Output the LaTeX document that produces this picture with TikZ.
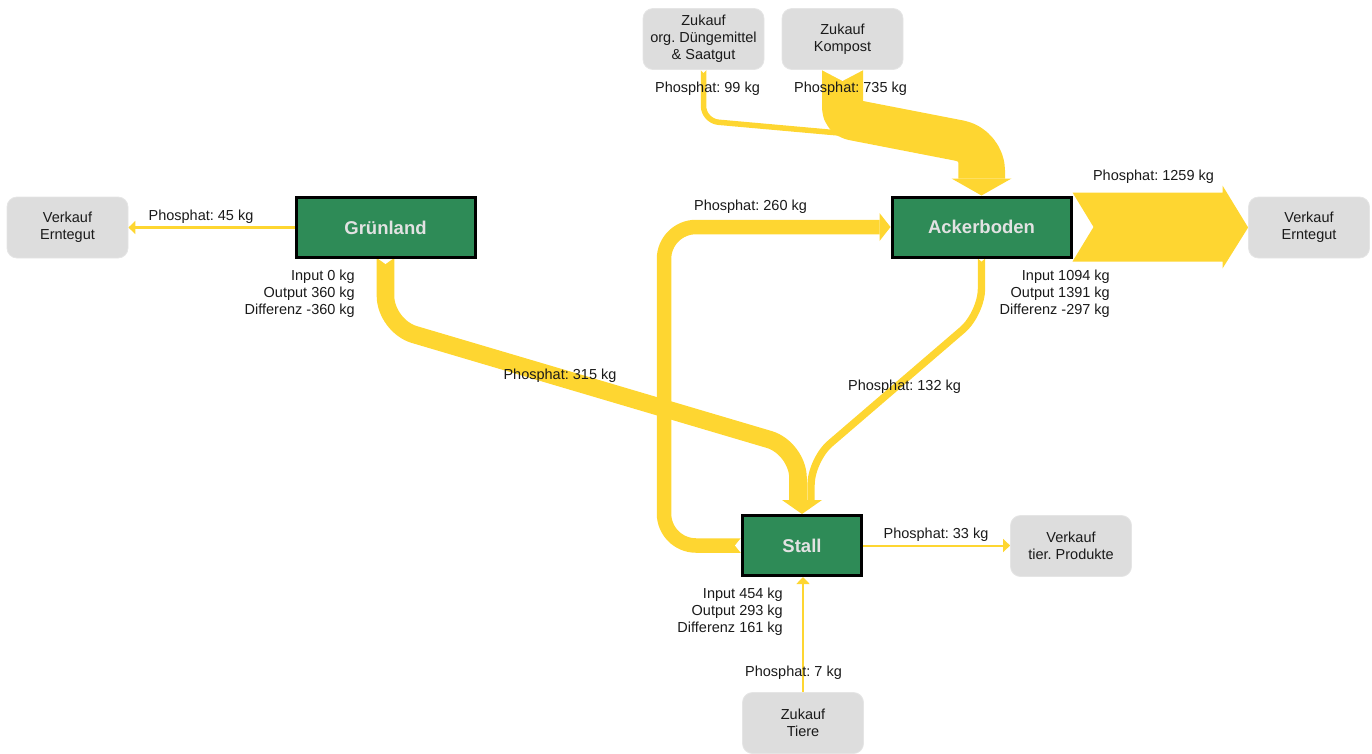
\documentclass[tikz,border=0pt]{standalone}
\usepackage{fontspec}
\setmainfont{Liberation Sans}
\usetikzlibrary{calc,arrows.meta}

\definecolor{flowyellow}{HTML}{FED631}
\definecolor{areagreen}{HTML}{2E8B57}
\definecolor{extgray}{HTML}{DDDDDD}
\definecolor{titlegray}{HTML}{E2E2E2}
\definecolor{txt}{HTML}{1A1A1A}

\newcommand{\lblfont}{\fontsize{14.5}{17}\selectfont}
\newcommand{\areatitlefont}{\fontsize{18.5}{22}\selectfont\bfseries}

\pgfdeclarelayer{flows}
\pgfsetlayers{flows,main}
\frenchspacing

\begin{document}
\begin{tikzpicture}[x=1pt,y=-1pt,
  area/.style={draw=black, line width=3pt, fill=areagreen, minimum height=60pt,
    text=titlegray, font=\areatitlefont},
  ext/.style={draw=black!10, line width=0.8pt, fill=extgray, rounded corners=10pt,
    minimum width=121pt, minimum height=61pt, align=center, font=\lblfont, text=txt},
  lbl/.style={font=\lblfont, text=txt, inner sep=0pt},
  stat/.style={lbl, align=right},
  flow/.style={draw=flowyellow, line cap=butt, line join=round, rounded corners=30pt},
  thinflow/.style={draw=flowyellow, -{Triangle[width=13pt,length=7pt]}},
  notch/.style={fill=white}
]
\useasboundingbox (0,0) rectangle (1372,753);

% areas of the farm
\node[area, minimum width=179pt] (gr) at (385.5,227.5) {Grünland};
\node[area, minimum width=179pt] (ab) at (981.5,227) {Ackerboden};
\node[area, minimum width=119pt] (st) at (802,545.5) {Stall};

% purchases and sales
\node[ext] (vl) at (67.5,227.5) {Verkauf\\Erntegut};
\node[ext] (vr) at (1309,227.5) {Verkauf\\Erntegut};
\node[ext] (zd) at (703.5,39) {Zukauf\\org. Düngemittel\\\& Saatgut};
\node[ext] (zk) at (842.5,39) {Zukauf\\Kompost};
\node[ext] (vt) at (1071,546) {Verkauf\\tier. Produkte};
\node[ext] (zt) at (803,723) {Zukauf\\Tiere};

% flow labels
\node[lbl] (l45) at (201,216.5) {Phosphat: 45 kg};
\node[lbl] (l315) at (560,375.5) {Phosphat: 315 kg};
\node[lbl] (l260) at (750.5,207) {Phosphat: 260 kg};
\node[lbl] (l132) at (904.5,387) {Phosphat: 132 kg};
\node[lbl] (l99) at (707.5,88.5) {Phosphat: 99 kg};
\node[lbl] (l735) at (850.5,88.5) {Phosphat: 735 kg};
\node[lbl] (l1259) at (1153.5,176.5) {Phosphat: 1259 kg};
\node[lbl] (l33) at (936,535) {Phosphat: 33 kg};
\node[lbl] (l7) at (793.5,673) {Phosphat: 7 kg};

% balances
\node[stat, anchor=east] (grs) at (355,293.5) {Input 0 kg\\Output 360 kg\\Differenz -360 kg};
\node[stat, anchor=east] (abs) at (1110,293.5) {Input 1094 kg\\Output 1391 kg\\Differenz -297 kg};
\node[stat, anchor=east] (sts) at (783,612) {Input 454 kg\\Output 293 kg\\Differenz 161 kg};

\begin{pgfonlayer}{flows}
  % Grünland -> Stall
  \draw[flow, line width=17.6pt] (gr.south) -- ($(gr.south)+(0,67)$)
    -- ($(st.north)+(-4,-66)$) -- ($(st.north)+(-4,-14)$);
  % Ackerboden -> Stall
  \draw[flow, line width=7.4pt, rounded corners=25pt] (ab.south) -- ($(ab.south)+(0,55)$)
    -- ($(st.north)+(9,-54)$) -- ($(st.north)+(9,-14)$);
  \fill[flowyellow] (st.north) -- ++(-20,-14) -- ++(40,0) -- cycle;
  % Stall -> Ackerboden
  \draw[flow, line width=14.5pt, rounded corners=32pt] (st.west) -- ($(st.west)+(-77,0)$)
    |- ($(ab.west)+(-11,0)$);
  \fill[flowyellow] (ab.west) -- ++(-11,-14) -- ++(0,28) -- cycle;
  % Zukauf org. Duengemittel -> Ackerboden (runs under the compost band)
  \draw[flow, line width=5.5pt] (zd.south)
    [rounded corners=15pt] -- ($(zd.south)+(0,51)$)
    [rounded corners=10pt] -- ($(ab.north)+(-131.5,-61.5)$)
    [rounded corners=5pt] -- ($(ab.north)+(-20.5,-38.5)$)
    -- ($(ab.north)+(-20.5,-17)$);
  % Zukauf Kompost -> Ackerboden
  \draw[flow, line width=41pt] (zk.south)
    [rounded corners=10pt] -- ($(zk.south)+(0,48)$)
    [rounded corners=25pt] -- ($(ab.north)+(3,-50)$)
    -- ($(ab.north)+(3,-17)$);
  \fill[flowyellow] (ab.north) -- ++(-30,-17) -- ++(60,0) -- cycle;
  % Ackerboden -> Verkauf Erntegut
  \fill[flowyellow] ($(ab.east)+(0,-34.5)$) -- ++(150,0) -- ++(0,-7) -- (vr.west)
    -- ($(ab.east)+(150,41.5)$) -- ++(0,-7) -- ($(ab.east)+(0,34.5)$)
    -- ($(ab.east)+(21,0)$) -- cycle;
  % notches where flows leave a box
  \fill[notch] ($(gr.south)+(-7,0)$) -- ++(14,0) -- ++(-7,5) -- cycle;
  \fill[notch] ($(ab.south)+(-3.5,0)$) -- ++(7,0) -- ++(-3.5,3) -- cycle;
  \fill[notch] ($(zk.south)+(-21,0)$) -- ++(42,0) -- ++(-21,11) -- cycle;
  \fill[notch] ($(zd.south)+(-3,0)$) -- ++(6,0) -- ++(-3,3) -- cycle;
  \fill[notch] ($(st.west)+(0,-7.5)$) -- ++(0,15) -- ++(-6,-7.5) -- cycle;
  % small flows
  \draw[thinflow, line width=2.5pt] (gr.west) -- (vl.east);
  \draw[thinflow, line width=2pt] (st.east) -- (st.east -| vt.west);
  \draw[thinflow, line width=2pt] (zt.north) -- (zt.north |- st.south);
\end{pgfonlayer}
\end{tikzpicture}
\end{document}
